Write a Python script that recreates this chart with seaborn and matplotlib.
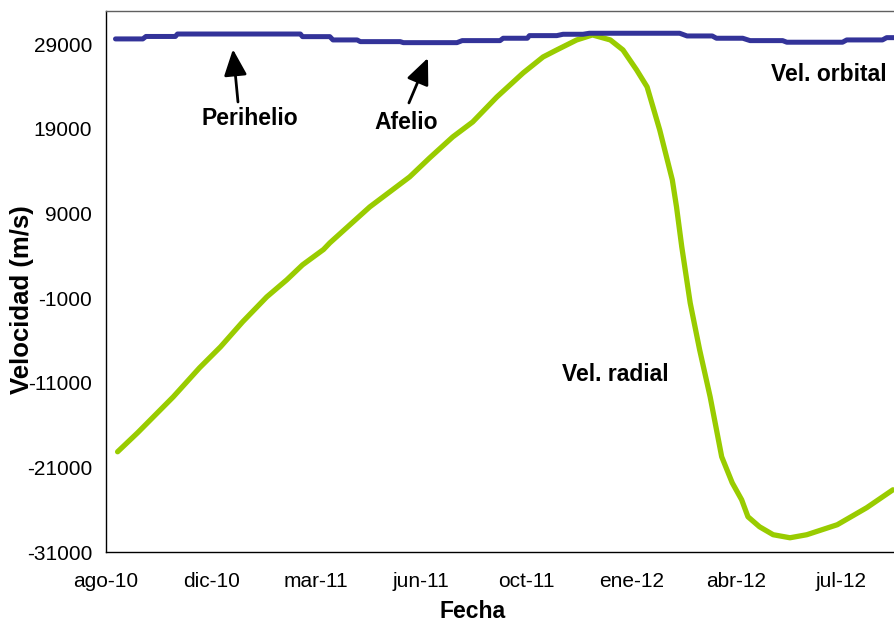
import numpy as np
import pandas as pd
from matplotlib import pyplot as plt
import seaborn as sns

# days since start of the series (ago-10 = 0)
dias_orbital = [9, 35, 38, 66, 68, 185, 187, 213, 216, 239, 242, 280, 283, 334, 339, 375, 378, 401,
                403, 429, 435, 454, 460, 546, 553, 577, 581, 606, 613, 644, 648, 701, 705, 739, 743, 752]
vel_orbital = [29630, 29630, 29920, 29920, 30210, 30210, 29900, 29900, 29510, 29510, 29310, 29310,
               29190, 29190, 29430, 29430, 29710, 29710, 30020, 30020, 30180, 30180, 30300, 30300,
               29980, 29980, 29710, 29710, 29430, 29430, 29240, 29240, 29510, 29510, 29780, 29780]

dias_radial = [11, 30, 64, 89, 109, 130, 153, 172, 187, 207, 213, 251, 289, 308, 330, 349, 372, 397,
               416, 429, 448, 463, 480, 492, 505, 515, 527, 539, 543, 548, 556, 565, 575, 586, 596,
               605, 611, 622, 635, 651, 667, 696, 724, 749]
vel_radial = [-19150, -16910, -12660, -9230, -6750, -3800, -850, 1160, 2930, 4750, 5530, 9780, 13330,
              15570, 18050, 19820, 22770, 25610, 27500, 28330, 29510, 30100, 29510, 28330, 25970, 23960,
              18880, 12970, 9780, 5060, -1550, -7100, -12650, -19740, -22810, -24820, -26830, -28010,
              -28950, -29310, -28950, -27770, -25760, -23640]

tick_dias = [0, 100, 200, 300, 400, 500, 600, 700]
tick_labels = ["ago-10", "dic-10", "mar-11", "jun-11", "oct-11", "ene-12", "abr-12", "jul-12"]
y_ticks = [-31000, -21000, -11000, -1000, 9000, 19000, 29000]

sns.set_theme(style="white")
plt.rcParams["font.family"] = ["Liberation Sans", "DejaVu Sans"]

fig = plt.figure(figsize=(8.94, 6.21), dpi=100)
ax = fig.add_axes([0.1186, 0.111, 0.8814, 0.8713])

orb = pd.DataFrame({"dia": dias_orbital, "vel": vel_orbital})
rad = pd.DataFrame({"dia": dias_radial, "vel": vel_radial})
sns.lineplot(data=rad, x="dia", y="vel", color="#99cc00", lw=3.8, ax=ax)
sns.lineplot(data=orb, x="dia", y="vel", color="#333399", lw=3.6, ax=ax)

ax.set_xlim(0, 750)
ax.set_ylim(-31000, 32930)
ax.set_xticks(tick_dias)
ax.set_xticklabels(tick_labels)
ax.set_yticks(y_ticks)
ax.set_yticklabels([str(v) for v in y_ticks])
ax.tick_params(axis="both", direction="inout", length=8, width=1, color="black",
               labelsize=15, labelcolor="black")
ax.tick_params(axis="x", pad=10)
ax.tick_params(axis="y", pad=6)

for s in ["left", "bottom"]:
    ax.spines[s].set_color("black")
    ax.spines[s].set_linewidth(1)
ax.spines["top"].set_color("#606060")
ax.spines["top"].set_linewidth(1)
ax.spines["right"].set_visible(False)

ax.set_xlabel("Fecha", fontsize=16.5, fontweight="bold", color="black")
ax.set_ylabel("Velocidad (m/s)", fontsize=18.5, fontweight="bold", color="black")
ax.xaxis.set_label_coords(0.465, -0.088)
ax.yaxis.set_label_coords(-0.092, 0.466)
ax.yaxis.label.set_zorder(5)

arrow = dict(arrowstyle="-|>,head_length=0.8,head_width=0.35", color="black", lw=2,
             mutation_scale=20, shrinkA=0, shrinkB=0)
ax.annotate("", xy=(120.8, 28400), xytext=(125.6, 22180), arrowprops=arrow)
ax.annotate("", xy=(306.4, 27380), xytext=(288.3, 22070), arrowprops=arrow)

lbl = dict(fontsize=16.5, fontweight="bold", color="black", va="center")
ax.text(137, 20170, "Perihelio", ha="center", **lbl)
ax.text(285.4, 19810, "Afelio", ha="center", **lbl)
ax.text(743, 25370, "Vel. orbital", ha="right", **lbl)
ax.text(484.3, -10060, "Vel. radial", ha="center", **lbl)

fig.savefig("out.png", dpi=100)
